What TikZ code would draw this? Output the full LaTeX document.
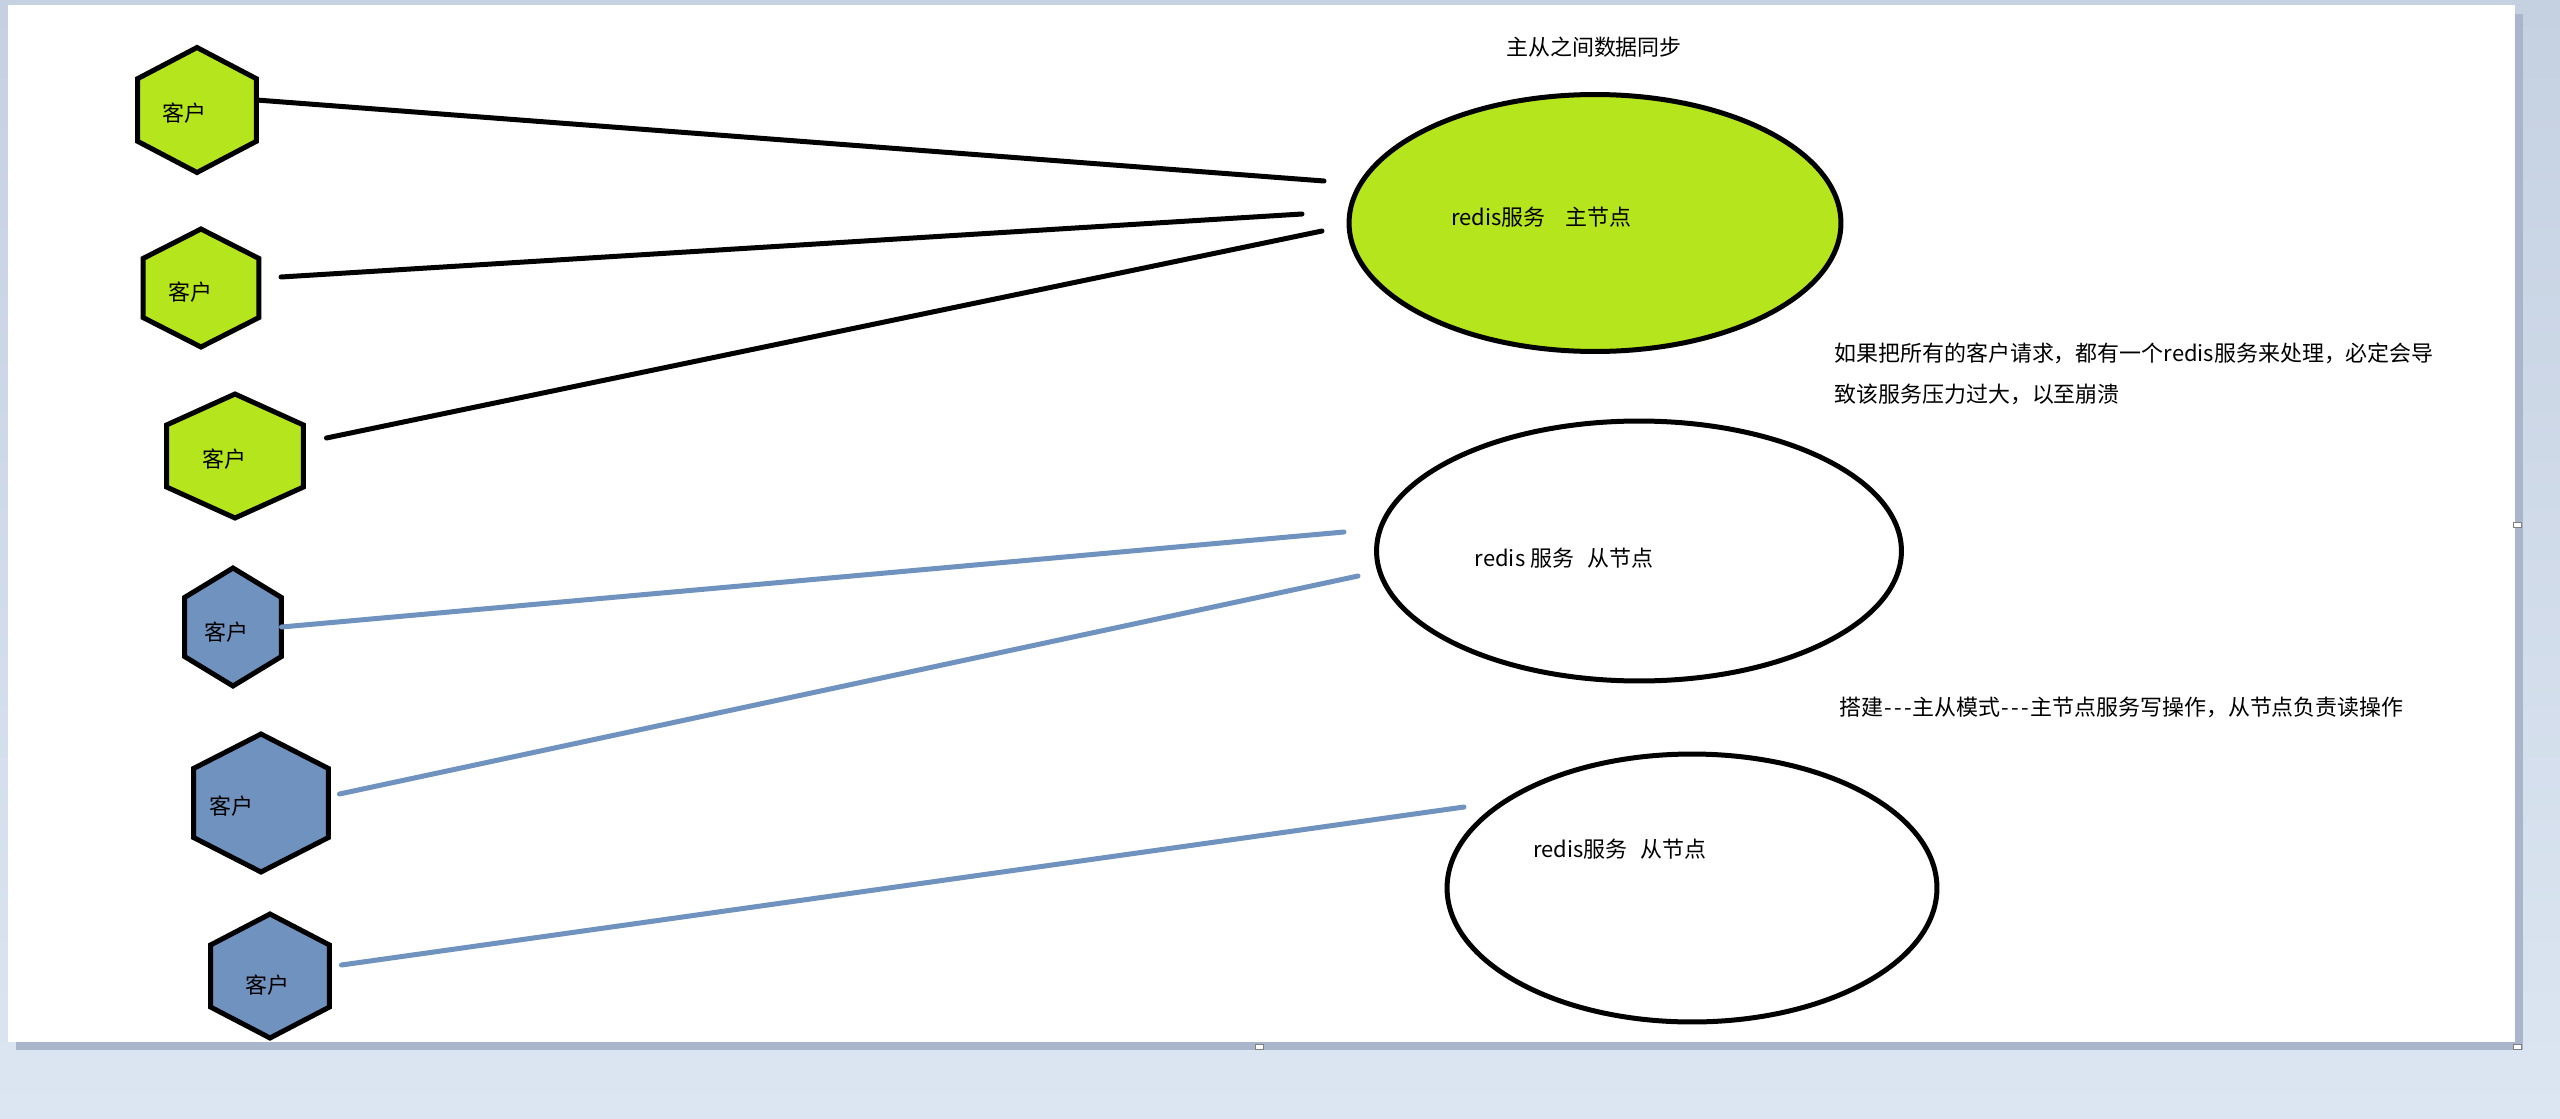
\documentclass[tikz,border=0pt]{standalone}
\usepackage{fontspec}
\setmainfont{Noto Sans CJK SC}
\usetikzlibrary{shapes.geometric, calc, backgrounds}
\definecolor{gruen}{HTML}{B5E61D}
\definecolor{graublau}{HTML}{7092BE}
\definecolor{hgoben}{RGB}{197,208,225}
\definecolor{hgunten}{RGB}{220,230,242}
\definecolor{schatten}{RGB}{168,181,202}
\newcommand{\strich}{\makebox[0.45em]{-}}

\begin{document}
\begin{tikzpicture}[x=0.02cm, y=-0.02cm,
    kunde/.style={inner sep=0pt, outer sep=0pt},
    rand/.style={draw=black, line width=0.1cm},
    server/.style={ellipse, draw=black, line width=0.1cm, inner sep=0pt},
    txt/.style={font=\fontsize{12.5}{15}\selectfont, inner sep=0pt},
    note/.style={txt, anchor=west, align=left, font=\fontsize{12.5}{23.3}\selectfont},
    leitung/.style={line width=0.1cm, line cap=round},
    griff/.style={draw=gray, fill=white, line width=0.02cm}
  ]
  \useasboundingbox (0,0) rectangle (2560,1119);

  % Hintergrund und Seite
  \begin{pgfonlayer}{background}
    \shade[top color=hgoben, bottom color=hgunten] (0,0) rectangle (2560,1119);
    \fill[schatten] (16,14) rectangle (2523,1050);
    \fill[white] (8,5) rectangle (2515,1042);
    \draw[griff] (2513,522) rectangle (2521,527);
    \draw[griff] (1255,1044) rectangle (1263,1049);
    \draw[griff] (2513,1044) rectangle (2521,1049);
  \end{pgfonlayer}

  % Clients von oben nach unten
  \foreach \n/\x/\y/\w/\h/\f/\dx/\dy in {
      1/197/110/2.38/2.50/gruen/-0.26/-0.06,
      2/201/288/2.32/2.36/gruen/-0.22/-0.08,
      3/235/456/2.74/2.48/gruen/-0.22/-0.06,
      4/233/627/1.94/2.36/graublau/-0.14/-0.10,
      5/261/803/2.70/2.76/graublau/-0.60/-0.06,
      6/270/976/2.38/2.48/graublau/-0.06/-0.18}{
    \node[kunde, minimum width=\w cm, minimum height=\h cm,
          label={[txt, xshift=\dx cm, yshift=\dy cm]center:客户}] (k\n) at (\x,\y) {};
    \begin{pgfonlayer}{background}
      \draw[rand, fill=\f] (k\n.north)
        -- ($(k\n.north east)!.5!(k\n.east)$) -- ($(k\n.south east)!.5!(k\n.east)$)
        -- (k\n.south)
        -- ($(k\n.south west)!.5!(k\n.west)$) -- ($(k\n.north west)!.5!(k\n.west)$)
        -- cycle;
    \end{pgfonlayer}
  }

  % Server
  \node[server, fill=gruen, minimum width=9.84cm, minimum height=5.14cm,
        label={[txt, xshift=-1.08cm, yshift=0.12cm]center:redis服务\hspace{0.9em}主节点}] (master) at (1595,223) {};
  \node[server, fill=white, minimum width=10.5cm, minimum height=5.2cm,
        label={[txt, xshift=-1.5cm, yshift=-0.14cm]center:redis 服务\hspace{0.6em}从节点}] (slave1) at (1639,551) {};
  \node[server, fill=white, minimum width=9.8cm, minimum height=5.36cm,
        label={[txt, xshift=-1.44cm, yshift=0.78cm]center:redis服务\hspace{0.6em}从节点}] (slave2) at (1692,888) {};

  % Texte
  \node[txt] (titel) at (1594,47) {主从之间数据同步};
  \node[note] (hinweis) at (1834,374) {如果把所有的客户请求，都有一个redis服务来处理，必定会导\\致该服务压力过大，以至崩溃};
  \node[note] (modus) at (1839,707) {搭建\strich\strich\strich 主从模式\strich\strich\strich 主节点服务写操作，从节点负责读操作};

  % Leitungen
  \coordinate (m1) at (1324,181);
  \coordinate (m2) at (1302,214);
  \coordinate (m3) at (1322,231);
  \coordinate (s1) at (1344,532);
  \coordinate (s2) at (1358,576);
  \coordinate (s3) at (1464,807);
  \draw[leitung] ([yshift=0.2cm]k1.east) -- (m1);
  \draw[leitung] ([xshift=0.44cm, yshift=0.22cm]k2.east) -- (m2);
  \draw[leitung] ([xshift=0.46cm, yshift=0.36cm]k3.east) -- (m3);
  \draw[leitung, graublau] (k4.east) -- (s1);
  \draw[leitung, graublau] ([xshift=0.22cm, yshift=0.18cm]k5.east) -- (s2);
  \draw[leitung, graublau] ([xshift=0.24cm, yshift=0.22cm]k6.east) -- (s3);
\end{tikzpicture}
\end{document}
